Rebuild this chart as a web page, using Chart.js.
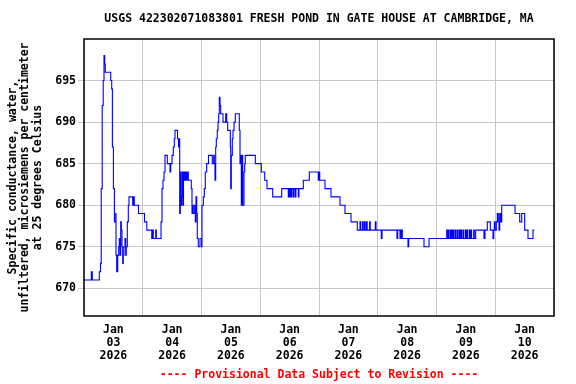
<!DOCTYPE html>
<html>
<head>
<meta charset="utf-8">
<script src="https://cdn.jsdelivr.net/npm/chart.js"></script>
<style>
  body { margin: 0; background: #fff; }
  #wrap { width: 576px; height: 384px; }
</style>
</head>
<body>
<div id="wrap"><canvas id="graph1" width="576" height="384"></canvas></div>
<script>
// hours since Jan 03 2026 00:00, and the reading that holds from that time on
const hours = [
  0, 2.98, 3.39, 6.25, 6.74, 7.03, 7.43, 7.84, 8.17, 8.46, 8.70, 10.91, 11.32, 11.60, 12.01, 12.42,
  12.95, 13.07, 13.36, 13.77, 14.18, 14.42, 14.71, 14.99, 15.24, 15.52, 15.81, 16.05, 16.34, 16.75,
  17.04, 17.28, 17.69, 18.10, 18.38, 19.89, 20.14, 20.55, 22.26, 24.71, 25.65, 27.66, 28.06, 28.31,
  29.29, 29.54, 31.46, 31.86, 32.27, 32.68, 33.09, 34.03, 35.13, 35.42, 35.95, 36.48, 36.89, 37.17,
  38.20, 38.60, 38.93, 39.09, 39.34, 39.63, 39.91, 40.16, 40.44, 40.65, 40.85, 41.26, 41.55, 41.87,
  42.20, 42.61, 43.83, 44.12, 44.41, 44.65, 45.22, 45.47, 45.75, 46.04, 46.28, 46.69, 47.39, 48.08,
  48.20, 48.74, 49.14, 49.55, 50.12, 50.86, 52.41, 52.98, 53.23, 53.51, 53.80, 54.05, 54.45, 54.74,
  55.03, 55.27, 55.56, 55.84, 56.78, 57.89, 58.29, 58.70, 59.77, 59.93, 60.17, 60.58, 60.87, 61.28,
  61.81, 63.44, 63.73, 64.01, 64.26, 64.54, 64.83, 65.36, 65.65, 65.89, 69.98, 72.43, 73.82, 74.76,
  77.09, 80.76, 83.46, 83.71, 84.15, 84.40, 84.68, 84.93, 85.50, 85.75, 86.32, 86.57, 87.54, 87.79,
  89.59, 92.04, 95.71, 96.00, 96.29, 98.45, 100.90, 104.58, 106.62, 109.07, 111.65, 112.75, 113.03,
  113.77, 114.06, 114.59, 114.87, 115.40, 115.69, 116.63, 116.92, 119.00, 119.29, 121.45, 121.74,
  127.86, 128.15, 129.09, 129.38, 129.62, 129.82, 130.03, 132.36, 132.64, 138.89, 140.94,
  148.17, 148.42, 148.70, 148.95, 149.51, 149.76, 150.21, 150.46, 150.86, 151.11, 151.68, 151.93,
  152.50, 152.75, 153.31, 153.56, 154.01, 154.26, 154.83, 155.08, 155.77, 156.02, 156.46, 156.71,
  157.40, 157.65, 158.09, 158.34, 159.20, 159.45, 160.01, 163.40, 163.81, 164.75, 165.98, 167.08,
  167.37, 167.61, 167.90, 168.43, 168.84, 169.25, 169.53, 169.82, 170.23, 170.64, 176.07, 177.99,
  178.80, 180.03, 181.38, 183.42, 183.95
];
const conductance = [
  671, 672, 671, 672, 673, 682, 692, 695, 698, 697, 696, 695, 694, 687, 682, 678,
  679, 674, 672, 674, 675, 676, 674, 678, 677, 675, 673, 674, 675, 676,
  674, 675, 678, 680, 681, 680, 681, 680, 679, 678, 677, 676, 677, 676,
  677, 676, 678, 682, 683, 684, 686, 685, 684, 685, 686, 687, 688, 689,
  688, 687, 688, 679, 684, 680, 681, 684, 680, 683, 684, 683, 684, 683,
  684, 683, 682, 679, 680, 679, 680, 678, 681, 679, 676, 675, 676, 675,
  680, 681, 682, 684, 685, 686, 685, 686, 685, 683, 687, 688, 689, 690,
  691, 693, 692, 691, 690, 691, 690, 689, 687, 682, 686, 688, 689, 690,
  691, 689, 685, 686, 680, 686, 680, 684, 685, 686, 685, 684, 683, 682,
  681, 682, 681, 682, 681, 682, 681, 682, 681, 682, 681, 682, 681, 682,
  683, 684, 683, 684, 683, 682, 681, 680, 679, 678, 677, 678, 677,
  678, 677, 678, 677, 678, 677, 678, 677, 678, 677, 676, 677,
  676, 677, 676, 677, 676, 677, 676, 675, 676, 675, 676,
  677, 676, 677, 676, 677, 676, 677, 676, 677, 676, 677, 676,
  677, 676, 677, 676, 677, 676, 677, 676, 677, 676, 677, 676,
  677, 676, 677, 676, 677, 676, 677, 676, 677, 678, 677, 676,
  677, 678, 677, 678, 679, 678, 677, 679, 678, 680, 679, 678,
  679, 677, 676, 677, 677
];
const dayLabels = ['03', '04', '05', '06', '07', '08', '09', '10'];
const yTicks = [670, 675, 680, 685, 690, 695];

const chartTitle = 'USGS 422302071083801 FRESH POND IN GATE HOUSE AT CAMBRIDGE, MA';
const yTitle = ['Specific conductance, water,', 'unfiltered, microsiemens per centimeter', 'at 25 degrees Celsius'];
const provisional = '---- Provisional Data Subject to Revision ----';

const mono = 'DejaVu Sans Mono';

// box round the plot and the station name above it
const frameAndTitle = {
  id: 'frameAndTitle',
  afterDraw(chart) {
    const ctx = chart.ctx;
    const a = chart.chartArea;
    ctx.save();
    ctx.strokeStyle = '#000';
    ctx.lineWidth = 1.5;
    ctx.strokeRect(a.left, a.top, a.right - a.left, a.bottom - a.top);
    ctx.fillStyle = '#000';
    ctx.font = 'bold 11.5px "' + mono + '"';
    ctx.textAlign = 'center';
    ctx.textBaseline = 'middle';
    ctx.fillText(chartTitle, (a.left + a.right) / 2, 19);
    ctx.restore();
  }
};

const data = {
  datasets: [{
    label: 'Conductance',
    data: hours.map((h, i) => ({ x: h, y: conductance[i] })),
    borderColor: '#0000ff',
    borderWidth: 1.1,
    pointRadius: 0,
    stepped: true,
    fill: false
  }]
};

const config = {
  type: 'line',
  data: data,
  options: {
    responsive: false,
    animation: false,
    layout: { padding: { top: 39, right: 22, left: 0, bottom: 0 } },
    plugins: {
      legend: { display: false },
      tooltip: { enabled: false },
      title: { display: false }
    },
    scales: {
      x: {
        type: 'linear',
        min: 0,
        max: 192,
        afterBuildTicks: s => { s.ticks = dayLabels.map((d, i) => ({ value: 12 + 24 * i })); },
        afterFit: s => { s.height = 68; },
        grid: { color: '#c8c8c8', offset: true, drawTicks: false },
        border: { display: false },
        ticks: {
          color: '#000',
          font: { family: mono, size: 11.5, weight: 'bold', lineHeight: 1.1 },
          padding: 8,
          maxRotation: 0,
          autoSkip: false,
          callback: v => ['Jan', dayLabels[Math.round((v - 12) / 24)], '2026']
        },
        title: {
          display: true,
          text: provisional,
          color: '#ff0000',
          font: { family: mono, size: 11.5, weight: 'bold', lineHeight: 1.1 },
          padding: { top: 0, bottom: 3 }
        }
      },
      y: {
        min: 666.67,
        max: 700,
        afterBuildTicks: s => { s.ticks = yTicks.map(v => ({ value: v })); },
        afterFit: s => { s.width = 84; },
        grid: { color: '#c8c8c8', tickLength: 6 },
        border: { display: false },
        ticks: {
          color: '#000',
          font: { family: mono, size: 11.5, weight: 'bold' },
          padding: 2
        },
        title: {
          display: true,
          text: yTitle,
          color: '#000',
          font: { family: mono, size: 11.5, weight: 'bold', lineHeight: 1.07 },
          padding: { top: 7, bottom: 0 }
        }
      }
    }
  },
  plugins: [frameAndTitle]
};

new Chart(document.querySelector('#graph1'), config);
</script>
</body>
</html>
